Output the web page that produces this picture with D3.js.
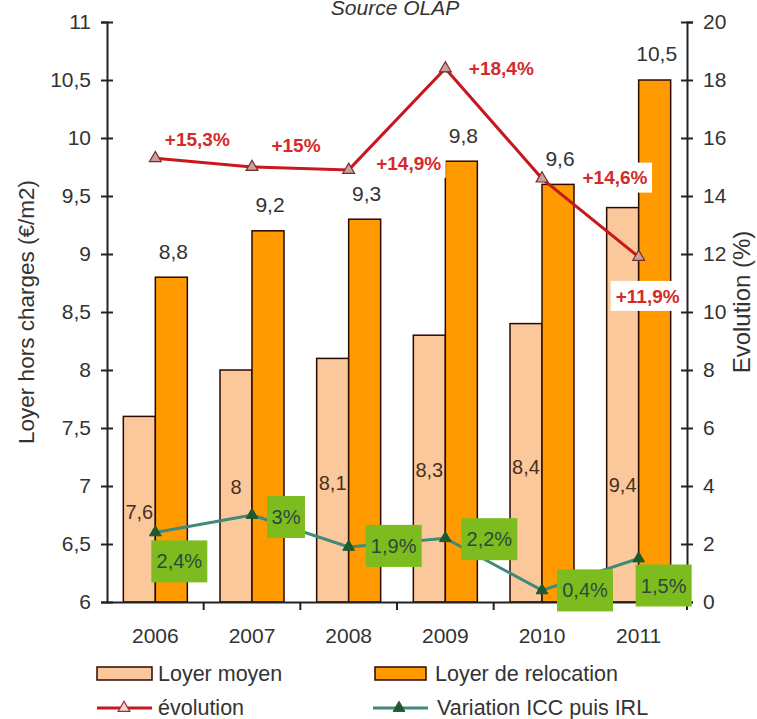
<!DOCTYPE html>
<html>
<head>
<meta charset="utf-8">
<script src="https://cdn.jsdelivr.net/npm/d3@7"></script>
<style>
  body { margin: 0; background: #fff; }
  text { font-family: "Liberation Sans", Arial, sans-serif; }
</style>
</head>
<body>
<div id="chart"></div>
<script>
// data
var years = ["2006", "2007", "2008", "2009", "2010", "2011"];
var loyerMoyen = [7.6, 8, 8.1, 8.3, 8.4, 9.4];
var loyerRelocation = [8.8, 9.2, 9.3, 9.8, 9.6, 10.5];
var evolution = [15.3, 15, 14.9, 18.4, 14.6, 11.9];
var variation = [2.4, 3, 1.9, 2.2, 0.4, 1.5];
var leftTicks = [6, 6.5, 7, 7.5, 8, 8.5, 9, 9.5, 10, 10.5, 11];
var rightTicks = [0, 2, 4, 6, 8, 10, 12, 14, 16, 18, 20];

// label placement (hand-placed in the original chart)
var moyenLabelAt = [6.78, 6.99, 7.03, 7.14, 7.16, 7.01];
var evoLabelOffset = [[42, -19], [44, -22], [60, -7], [56, 0], [73, -1], [9, 39]];
var varLabelOffset = [[24, 29], [34, 2], [45, -1], [44, 1], [43, 0], [25, 27]];

var svgWidth = 757;
var svgHeight = 719;
var plotLeft = 107, plotRight = 687, plotTop = 22, plotBottom = 602;

var svg = d3.select("#chart")
    .append("svg")
    .attr("width", svgWidth)
    .attr("height", svgHeight);

var fmt = function(v) { return String(v).replace(".", ","); };

// scales
var x = d3.scaleBand().domain(years).range([plotLeft, plotRight]);
var yLeft = d3.scaleLinear().domain([6, 11]).range([plotBottom, plotTop]);
var yRight = d3.scaleLinear().domain([0, 20]).range([plotBottom, plotTop]);
var cx = function(i) { return x(years[i]) + x.bandwidth() / 2; };
var barW = 32;

// source
svg.append("text")
    .attr("x", 395).attr("y", 15)
    .attr("text-anchor", "middle")
    .attr("font-size", "21px")
    .attr("font-style", "italic")
    .attr("fill", "#333")
    .text("Source OLAP");

// bars
var barStroke = "#2b0a00";
svg.append("g").selectAll("rect")
    .data(loyerMoyen)
    .enter()
    .append("rect")
    .attr("x", (d, i) => cx(i) - barW)
    .attr("y", d => yLeft(d))
    .attr("width", barW)
    .attr("height", d => plotBottom - yLeft(d))
    .attr("fill", "#fbc89c")
    .attr("stroke", barStroke)
    .attr("stroke-width", 1.5);

svg.append("g").selectAll("rect")
    .data(loyerRelocation)
    .enter()
    .append("rect")
    .attr("x", (d, i) => cx(i))
    .attr("y", d => yLeft(d))
    .attr("width", barW)
    .attr("height", d => plotBottom - yLeft(d))
    .attr("fill", "#ff9a00")
    .attr("stroke", barStroke)
    .attr("stroke-width", 1.5);

// axes
var leftAxis = d3.axisLeft(yLeft).tickValues(leftTicks).tickFormat(fmt).tickSize(6).tickPadding(10);
var gl = svg.append("g").attr("transform", `translate(${plotLeft},0)`).call(leftAxis);
gl.selectAll(".tick line").attr("x1", 6);

var rightAxis = d3.axisRight(yRight).tickValues(rightTicks).tickSize(6).tickPadding(10);
var gr = svg.append("g").attr("transform", `translate(${plotRight},0)`).call(rightAxis);
gr.selectAll(".tick line").attr("x1", -6);

var bottomAxis = d3.axisBottom(x).tickSize(0).tickPadding(26);
var gb = svg.append("g").attr("transform", `translate(0,${plotBottom})`).call(bottomAxis);
gb.selectAll(".tick").each(function(d) {
    d3.select(this).append("line")
        .attr("x1", x.bandwidth() / 2).attr("x2", x.bandwidth() / 2)
        .attr("y1", 0).attr("y2", 8)
        .attr("stroke", "#222");
});

[gl, gr, gb].forEach(function(g) {
    g.selectAll("path").attr("stroke", "#222").attr("stroke-width", 2);
    g.selectAll("line").attr("stroke", "#222").attr("stroke-width", 2);
    g.selectAll("text").attr("font-size", "21px").attr("fill", "#333")
        .attr("font-family", "Liberation Sans, Arial, sans-serif");
});

// axis titles
svg.append("text")
    .attr("transform", "translate(34,312) rotate(-90)")
    .attr("text-anchor", "middle")
    .attr("font-size", "22.5px")
    .attr("fill", "#333")
    .text("Loyer hors charges (€/m2)");

svg.append("text")
    .attr("transform", "translate(750,302) rotate(-90)")
    .attr("text-anchor", "middle")
    .attr("font-size", "24px")
    .attr("fill", "#333")
    .text("Evolution (%)");

// bar labels
svg.append("g").selectAll("text")
    .data(loyerMoyen)
    .enter()
    .append("text")
    .attr("x", (d, i) => cx(i) - barW / 2)
    .attr("y", (d, i) => yLeft(moyenLabelAt[i]))
    .attr("dy", "0.35em")
    .attr("text-anchor", "middle")
    .attr("font-size", "20px")
    .attr("fill", "#4a3020")
    .text(fmt);

svg.append("g").selectAll("text")
    .data(loyerRelocation)
    .enter()
    .append("text")
    .attr("x", (d, i) => cx(i) + barW / 2 + 2)
    .attr("y", d => yLeft(d) - 26)
    .attr("dy", "0.35em")
    .attr("text-anchor", "middle")
    .attr("font-size", "21px")
    .attr("fill", "#333")
    .text(fmt);

// lines
var triangle = d3.symbol().type(d3.symbolTriangle).size(60);

var valueLine = d3.line()
    .x((d, i) => cx(i))
    .y(d => yRight(d));

svg.append("path")
    .datum(evolution)
    .attr("d", valueLine)
    .attr("fill", "none")
    .attr("stroke", "#c8171e")
    .attr("stroke-width", 3);

svg.append("g").selectAll("path")
    .data(evolution)
    .enter()
    .append("path")
    .attr("d", triangle)
    .attr("transform", (d, i) => `translate(${cx(i)},${yRight(d)})`)
    .attr("fill", "#c9a0a0")
    .attr("stroke", "#7a2a2a")
    .attr("stroke-width", 1.2);

svg.append("path")
    .datum(variation)
    .attr("d", valueLine)
    .attr("fill", "none")
    .attr("stroke", "#3f8a78")
    .attr("stroke-width", 3);

svg.append("g").selectAll("path")
    .data(variation)
    .enter()
    .append("path")
    .attr("d", triangle)
    .attr("transform", (d, i) => `translate(${cx(i)},${yRight(d)})`)
    .attr("fill", "#1e5a2e")
    .attr("stroke", "#1e5a2e");

// evolution labels with white box
var evoG = svg.append("g").selectAll("g")
    .data(evolution)
    .enter()
    .append("g")
    .attr("transform", (d, i) => `translate(${cx(i) + evoLabelOffset[i][0]},${yRight(d) + evoLabelOffset[i][1]})`);
evoG.append("rect")
    .attr("x", -37).attr("y", -15).attr("width", 74).attr("height", 30)
    .attr("fill", "#fff");
evoG.append("text")
    .attr("text-anchor", "middle")
    .attr("dy", "0.35em")
    .attr("font-size", "19px")
    .attr("font-weight", "bold")
    .attr("fill", "#d42a2a")
    .text(d => "+" + fmt(d) + "%");

// variation labels with green box
var varG = svg.append("g").selectAll("g")
    .data(variation)
    .enter()
    .append("g")
    .attr("transform", (d, i) => `translate(${cx(i) + varLabelOffset[i][0]},${yRight(d) + varLabelOffset[i][1]})`);
varG.append("rect")
    .attr("x", d => d === 3 ? -19 : -28)
    .attr("y", -21)
    .attr("width", d => d === 3 ? 38 : 56)
    .attr("height", 42)
    .attr("fill", "#7cbc1e");
varG.append("text")
    .attr("text-anchor", "middle")
    .attr("dy", "0.35em")
    .attr("font-size", "20px")
    .attr("fill", "#2c4a3c")
    .text(d => fmt(d) + "%");

// legend
var legend = svg.append("g");
legend.append("rect").attr("x", 97).attr("y", 667).attr("width", 55).attr("height", 13)
    .attr("fill", "#fbc89c").attr("stroke", barStroke).attr("stroke-width", 1.5);
legend.append("text").attr("x", 158).attr("y", 681).attr("font-size", "21.5px").attr("fill", "#333")
    .text("Loyer moyen");
legend.append("rect").attr("x", 375).attr("y", 667).attr("width", 51).attr("height", 13)
    .attr("fill", "#ff9a00").attr("stroke", barStroke).attr("stroke-width", 1.5);
legend.append("text").attr("x", 435).attr("y", 681).attr("font-size", "21.5px").attr("fill", "#333")
    .text("Loyer de relocation");

legend.append("line").attr("x1", 97).attr("x2", 152).attr("y1", 708).attr("y2", 708)
    .attr("stroke", "#c8171e").attr("stroke-width", 3);
legend.append("path").attr("d", triangle).attr("transform", "translate(124,708)")
    .attr("fill", "#f2d0d0").attr("stroke", "#a03030").attr("stroke-width", 1.2);
legend.append("text").attr("x", 158).attr("y", 715).attr("font-size", "21.5px").attr("fill", "#333")
    .text("évolution");

legend.append("line").attr("x1", 373).attr("x2", 428).attr("y1", 708).attr("y2", 708)
    .attr("stroke", "#3f8a78").attr("stroke-width", 3);
legend.append("path").attr("d", triangle).attr("transform", "translate(399,708)")
    .attr("fill", "#1e5a2e").attr("stroke", "#1e5a2e");
legend.append("text").attr("x", 437).attr("y", 715).attr("font-size", "21.5px").attr("fill", "#333")
    .text("Variation ICC puis IRL");
</script>
</body>
</html>
